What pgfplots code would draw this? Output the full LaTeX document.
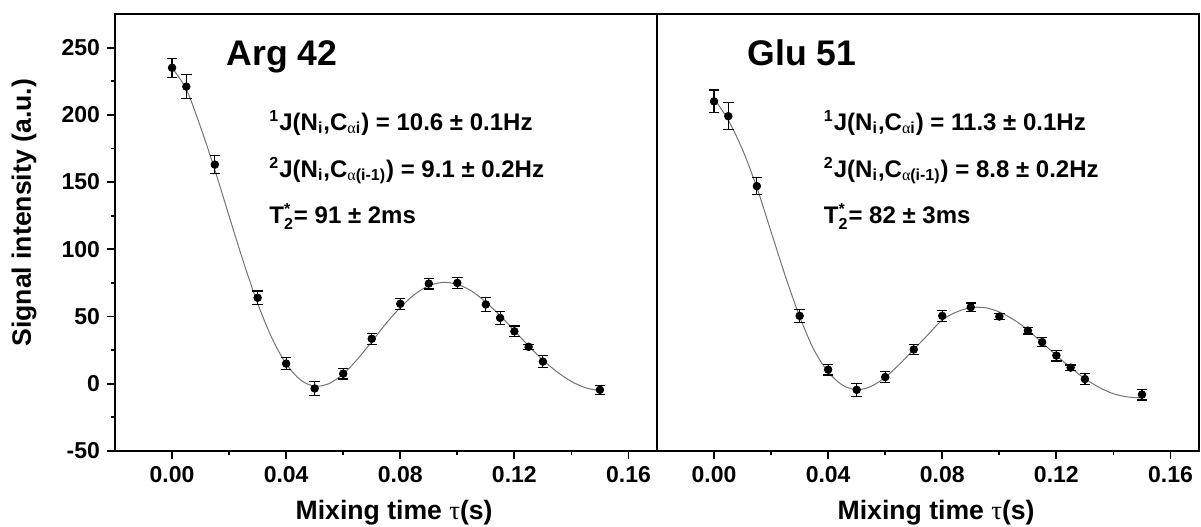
\documentclass[border=0pt]{standalone}
\usepackage{amsmath}
\usepackage{fontspec}
\setmainfont{Liberation Sans}
\newfontfamily\symf{Liberation Serif}
\usepackage{pgfplots}
\usepackage{pgfplotstable}
\pgfplotsset{compat=1.18}

\pgfplotstableread{
x y e
0 235 7
0.005 221 9
0.015 163 6.5
0.03 64 5
0.04 15 4.5
0.05 -3.5 5
0.06 7.5 4
0.07 33.5 4
0.08 59.5 4
0.09 74.5 4
0.10 75 4
0.11 59 5
0.115 49 5
0.12 39 4
0.125 27.5 2
0.13 16.5 4.5
0.15 -4.5 3.5
}\argdata

\pgfplotstableread{
x y e
0 210 8.5
0.005 199 10
0.015 147 6.5
0.03 50.5 5
0.04 10.5 4
0.05 -4.5 5
0.06 5 4
0.07 25.5 3.5
0.08 50.5 4
0.09 57 3
0.10 50 2
0.11 39.5 2.5
0.115 31 3.5
0.12 21 4
0.125 12 2
0.13 3.5 4
0.15 -8 4
}\gludata

\pgfplotstableread{
x y
0 235
0.005 219
0.01 190.9
0.015 159.1
0.02 124.7
0.025 90.8
0.03 59.8
0.035 34.0
0.04 14.8
0.045 2.9
0.05 -1.8
0.055 0.1
0.06 7.3
0.065 18.3
0.07 31.3
0.075 44.8
0.08 56.7
0.085 66.4
0.09 72.9
0.095 75.4
0.10 73.9
0.105 69.0
0.11 60.7
0.115 50.8
0.12 39.5
0.125 28.2
0.13 17.7
0.135 8.8
0.14 1.7
0.145 -3.0
0.15 -5.2
}\argfit

\pgfplotstableread{
x y
0 212
0.005 196
0.01 174
0.015 146
0.02 113
0.025 80
0.03 50
0.035 25.3
0.04 8.8
0.045 -1.0
0.05 -4.4
0.055 -2.0
0.06 4.8
0.065 14.5
0.07 25.5
0.075 36.5
0.08 47.5
0.085 53.4
0.09 56.6
0.095 56.6
0.10 53.4
0.105 47.7
0.11 40.1
0.115 30.5
0.12 21.1
0.125 12.0
0.13 3.8
0.135 -2.7
0.14 -7.4
0.145 -9.8
0.15 -10.5
}\glufit

\pgfplotsset{
  panel/.style={
    scale only axis, width=271pt, height=218.5pt,
    xmin=-0.02, xmax=0.17, ymin=-50, ymax=275,
    axis line style={line width=1pt},
    every tick/.style={line width=0.9pt, black},
    major tick length=4pt, minor tick length=2.2pt,
    tick align=outside, xtick pos=bottom, ytick pos=left,
    xtick={0,0.04,0.08,0.12,0.16},
    xticklabels={0.00,0.04,0.08,0.12,0.16},
    minor xtick={0.02,0.06,0.10,0.14},
    tick label style={font=\fontsize{11.5}{13}\selectfont\bfseries},
    label style={font=\fontsize{13.3}{15}\selectfont\bfseries},
    xlabel={Mixing time {\symf\mdseries τ}(s)},
    xlabel style={at={(axis description cs:0.515,-0.142)}, anchor=center},
    clip=false,
  },
  pts/.style={only marks, mark=*, black, mark size=1.9pt,
    error bars/.cd, y dir=both, y explicit,
    error bar style={line width=0.6pt, black},
    error mark options={rotate=90, mark size=2.6pt, line width=0.6pt, black}},
  fitline/.style={black!55, line width=0.5pt, smooth},
}
\tikzset{
  ann/.style={anchor=base west, font=\fontsize{12}{14}\selectfont\bfseries, inner sep=0pt},
  ttl/.style={anchor=base west, font=\fontsize{17.8}{20}\selectfont\bfseries, inner sep=0pt},
}
\newcommand{\al}{{\symf\mdseries α}}
\newcommand{\Tt}{T$^{\text{*}}_{\text{2}}$}

\begin{document}
\begin{tikzpicture}
\useasboundingbox (-57.5pt,-37.5pt) rectangle (543pt,225.5pt);
\begin{axis}[panel, at={(0pt,0pt)}, anchor=south west,
  ytick={-50,0,50,100,150,200,250},
  yticklabels={-50,0,50,100,150,200,250},
  minor ytick={-25,25,75,125,175,225},
  ylabel={Signal intensity (a.u.)},
  ylabel style={at={(axis description cs:-0.168,0.545)}, anchor=center},
]
\addplot[fitline] table[x=x,y=y] {\argfit};
\addplot[pts] table[x=x,y=y,y error=e] {\argdata};
\node[ttl] at (axis cs:0.019,237) {Arg 42};
\node[ann] at (axis cs:0.034,188.5) {\textsuperscript{1}J(N\textsubscript{i},C\textsubscript{\al i}) = 10.6 ± 0.1Hz};
\node[ann] at (axis cs:0.034,153.5) {\textsuperscript{2}J(N\textsubscript{i},C\textsubscript{\al(i-1)}) = 9.1 ± 0.2Hz};
\node[ann] at (axis cs:0.034,119.5) {\Tt= 91 ± 2ms};
\end{axis}
\begin{axis}[panel, at={(271pt,0pt)}, anchor=south west,
  ytick=\empty, minor ytick={},
]
\addplot[fitline] table[x=x,y=y] {\glufit};
\addplot[pts] table[x=x,y=y,y error=e] {\gludata};
\node[ttl] at (axis cs:0.0116,237) {Glu 51};
\node[ann] at (axis cs:0.0384,188.5) {\textsuperscript{1}J(N\textsubscript{i},C\textsubscript{\al i}) = 11.3 ± 0.1Hz};
\node[ann] at (axis cs:0.0384,153.5) {\textsuperscript{2}J(N\textsubscript{i},C\textsubscript{\al(i-1)}) = 8.8 ± 0.2Hz};
\node[ann] at (axis cs:0.0384,119.5) {\Tt= 82 ± 3ms};
\end{axis}
\end{tikzpicture}
\end{document}
